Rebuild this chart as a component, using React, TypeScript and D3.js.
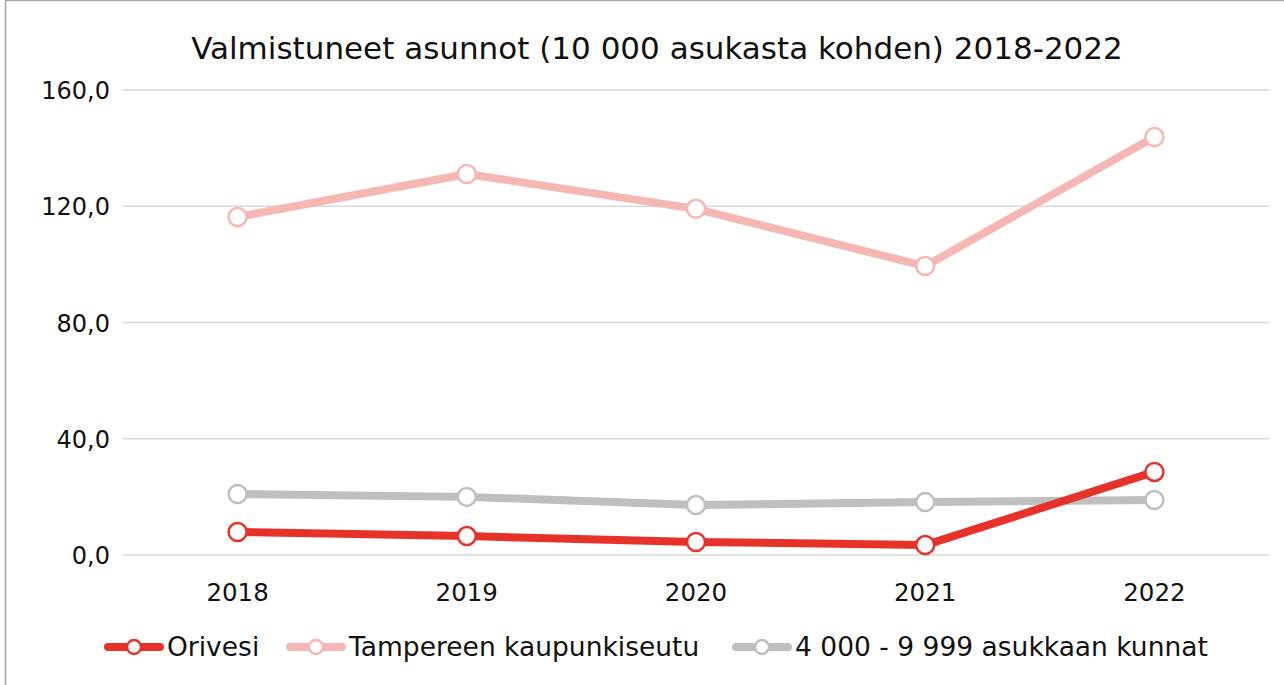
import { useEffect, useRef } from 'react';
import * as d3 from 'd3';

const years = ['2018', '2019', '2020', '2021', '2022'];
const orivesi = [7.9, 6.5, 4.5, 3.4, 28.6];
const tampere = [116.3, 131.1, 119.1, 99.4, 143.8];
const kunnat = [21.0, 20.0, 17.2, 18.2, 18.9];
const yTicks = [0, 40, 80, 120, 160];

const seriesNames = ['Orivesi', 'Tampereen kaupunkiseutu', '4 000 - 9 999 asukkaan kunnat'];
const seriesColors = ['#E5332A', '#F5B7B4', '#BFBFBF'];

const FONT = '"DejaVu Sans", sans-serif';

const App = () => {
  const svgRef = useRef<SVGSVGElement>(null);

  useEffect(() => {
    const width = 1284;
    const height = 685;
    const svg = d3.select(svgRef.current);
    svg.selectAll('*').remove();
    svg.attr('width', width).attr('height', height);

    // frame
    svg.append('rect')
      .attr('x', 5.5).attr('y', 0.5)
      .attr('width', width + 10).attr('height', height + 10)
      .attr('fill', 'white').attr('stroke', '#A6A6A6').attr('stroke-width', 1.5);

    const margin = { top: 90, right: 15, bottom: 130, left: 123 };
    const x = d3.scaleBand().domain(years).range([margin.left, width - margin.right]);
    const y = d3.scaleLinear().domain([0, 160]).range([height - margin.bottom, margin.top]);

    svg.append('text')
      .attr('x', 657).attr('y', 59)
      .attr('text-anchor', 'middle')
      .attr('font-family', FONT).attr('font-size', 31)
      .attr('fill', '#111')
      .text('Valmistuneet asunnot (10 000 asukasta kohden) 2018-2022');

    // grid
    svg.append('g')
      .selectAll('line')
      .data(yTicks)
      .enter()
      .append('line')
      .attr('x1', margin.left).attr('x2', width - margin.right)
      .attr('y1', (d) => y(d)).attr('y2', (d) => y(d))
      .attr('stroke', '#D9D9D9').attr('stroke-width', 1.5);

    // y labels
    svg.append('g')
      .selectAll('text')
      .data(yTicks)
      .enter()
      .append('text')
      .attr('x', 110).attr('y', (d) => y(d) + 9)
      .attr('text-anchor', 'end')
      .attr('font-family', FONT).attr('font-size', 24)
      .attr('fill', '#111')
      .text((d) => d.toFixed(1).replace('.', ','));

    // x labels
    svg.append('g')
      .selectAll('text')
      .data(years)
      .enter()
      .append('text')
      .attr('x', (d) => x(d)! + x.bandwidth() / 2)
      .attr('y', 601)
      .attr('text-anchor', 'middle')
      .attr('font-family', FONT).attr('font-size', 24.5)
      .attr('fill', '#111')
      .text((d) => d);

    const allSeries = [orivesi, kunnat, tampere];
    const colorFor = [seriesColors[0], seriesColors[2], seriesColors[1]];
    const line = d3.line<number>()
      .x((_, i) => x(years[i])! + x.bandwidth() / 2)
      .y((d) => y(d));

    // draw gray & pink first, red on top
    const order = [2, 1, 0];
    order.forEach((k) => {
      const vals = allSeries[k];
      const g = svg.append('g');
      g.append('path')
        .datum(vals)
        .attr('d', line)
        .attr('fill', 'none')
        .attr('stroke', colorFor[k])
        .attr('stroke-width', 8)
        .attr('stroke-linejoin', 'round');
      g.selectAll('circle')
        .data(vals)
        .enter()
        .append('circle')
        .attr('cx', (_, i) => x(years[i])! + x.bandwidth() / 2)
        .attr('cy', (d) => y(d))
        .attr('r', 9)
        .attr('fill', 'white')
        .attr('stroke', colorFor[k])
        .attr('stroke-width', 2.5);
    });

    // legend
    const legendX = [108, 290, 736];
    const legend = svg.append('g');
    seriesNames.forEach((name, i) => {
      const lx = legendX[i];
      const ly = 647;
      legend.append('line')
        .attr('x1', lx).attr('x2', lx + 52)
        .attr('y1', ly).attr('y2', ly)
        .attr('stroke', seriesColors[i]).attr('stroke-width', 8)
        .attr('stroke-linecap', 'round');
      legend.append('circle')
        .attr('cx', lx + 26).attr('cy', ly).attr('r', 7)
        .attr('fill', 'white')
        .attr('stroke', seriesColors[i]).attr('stroke-width', 2.5);
      legend.append('text')
        .attr('x', lx + 59).attr('y', ly + 9)
        .attr('font-family', FONT).attr('font-size', 26.5)
        .attr('fill', '#111')
        .text(name);
    });
  }, []);

  return (
    <svg ref={svgRef} style={{ position: 'absolute', left: 0, top: 0, display: 'block' }}></svg>
  );
};

export default App;
